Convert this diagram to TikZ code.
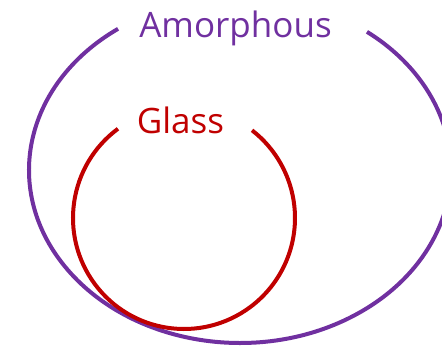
\documentclass[tikz,border=0pt]{standalone}
\usepackage{fontspec}
\setmainfont{Open Sans}
\definecolor{amorphpurple}{HTML}{7030A0}
\definecolor{glassred}{HTML}{C00000}
\tikzset{setline/.style={line width=4pt},
  setlabel/.style={anchor=base,inner sep=0pt,font=\fontsize{35}{42}\selectfont}}

\begin{document}
\begin{tikzpicture}[x=1pt,y=1pt]
\useasboundingbox (0,0) rectangle (442,346);
\begin{scope}
\clip (0,0) rectangle (442,346);
\draw[setline,amorphpurple] (240,176) ++(125.3:211 and 173)
  arc[start angle=125.3,end angle=413,x radius=211,y radius=173];
\end{scope}
\draw[setline,glassred] (184,128) ++(126.5:111)
  arc[start angle=126.5,end angle=412.2,radius=111];
\node[setlabel,text=amorphpurple] (amorph) at (235.5,308) {Amorphous};
\node[setlabel,text=glassred] (glass) at (180.5,212) {Glass};
\end{tikzpicture}
\end{document}
